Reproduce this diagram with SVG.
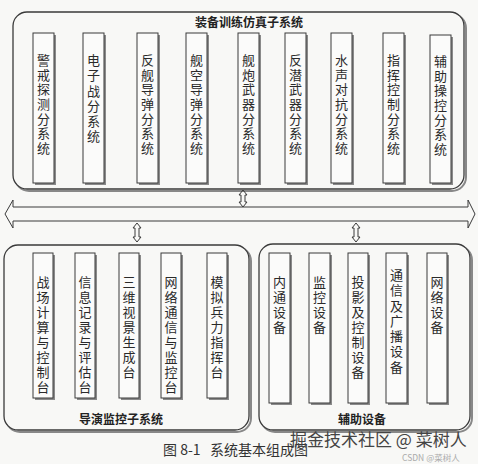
<svg xmlns="http://www.w3.org/2000/svg" width="478" height="464" viewBox="0 0 478 464">
<defs>
<style>
.bg{fill:#f8f8f6}
.cont{fill:#f8f8f6;stroke:#3a3a3a;stroke-width:1.3}
.cshadow{fill:none;stroke:#888;stroke-width:2}
.box{fill:#fbfbfa;stroke:#3a3a3a;stroke-width:1}
.bshadow{fill:#8a8a8a}
.t{font-family:"Noto Sans CJK SC","Noto Sans",sans-serif;font-size:13px;fill:#2a2a2a;writing-mode:vertical-rl;letter-spacing:1.7px}
.t2{letter-spacing:2px}
.t3{letter-spacing:2.3px}
.title{font-family:"Noto Sans CJK SC","Noto Sans",sans-serif;font-size:12px;font-weight:bold;fill:#222;text-anchor:middle}
.arrow{fill:none;stroke:#3a3a3a;stroke-width:1}
.cap{font-family:"Noto Sans CJK SC","Noto Sans",sans-serif;font-size:14px;fill:#333}
.wm{font-family:"Noto Sans CJK SC","Noto Sans",sans-serif;font-size:17px;fill:#444}
.wm2{font-family:"Noto Sans CJK SC","Noto Sans",sans-serif;font-size:8.5px;fill:#aaa}
</style>
</defs>
<rect class="bg" x="0" y="0" width="478" height="464"/>

<g id="equip-training-subsystem">
<rect class="cshadow" x="15" y="14" width="451" height="177" rx="14"/>
<rect class="cont" x="13" y="12" width="451" height="177" rx="14"/>
<text class="title" x="249" y="26.5">装备训练仿真子系统</text>
</g>

<g id="n1"><rect class="bshadow" x="35" y="35" width="21" height="150"/><rect class="box" x="33" y="33" width="21" height="150"/>
<text class="t" x="43.5" y="53.5">警戒探测分系统</text></g>
<g id="n2"><rect class="bshadow" x="85" y="35" width="21" height="150"/><rect class="box" x="83" y="33" width="21" height="150"/>
<text class="t t3" x="93.5" y="53.5">电子战分系统</text></g>
<g id="n3"><rect class="bshadow" x="139" y="35" width="21" height="150"/><rect class="box" x="137" y="33" width="21" height="150"/>
<text class="t" x="147.5" y="53.5">反舰导弹分系统</text></g>
<g id="n4"><rect class="bshadow" x="188" y="35" width="21" height="150"/><rect class="box" x="186" y="33" width="21" height="150"/>
<text class="t" x="196.5" y="53.5">舰空导弹分系统</text></g>
<g id="n5"><rect class="bshadow" x="240" y="35" width="21" height="150"/><rect class="box" x="238" y="33" width="21" height="150"/>
<text class="t" x="248.5" y="53.5">舰炮武器分系统</text></g>
<g id="n6"><rect class="bshadow" x="287" y="35" width="21" height="150"/><rect class="box" x="285" y="33" width="21" height="150"/>
<text class="t" x="295.5" y="53.5">反潜武器分系统</text></g>
<g id="n7"><rect class="bshadow" x="333" y="35" width="21" height="150"/><rect class="box" x="331" y="33" width="21" height="150"/>
<text class="t" x="341.5" y="53.5">水声对抗分系统</text></g>
<g id="n8"><rect class="bshadow" x="385" y="35" width="21" height="150"/><rect class="box" x="383" y="33" width="21" height="150"/>
<text class="t" x="393.5" y="53.5">指挥控制分系统</text></g>
<g id="n9"><rect class="bshadow" x="432" y="37" width="21" height="148"/><rect class="box" x="430" y="35" width="21" height="148"/>
<text class="t" x="440.5" y="54.5">辅助操控分系统</text></g>

<g id="director-subsystem">
<rect class="cshadow" x="6" y="247" width="245" height="185" rx="14"/>
<rect class="cont" x="4" y="245" width="245" height="185" rx="14"/>
<text class="title" x="121" y="424">导演监控子系统</text>
</g>
<g id="d1"><rect class="bshadow" x="35" y="255" width="20" height="145"/><rect class="box" x="33" y="253" width="20" height="145"/>
<text class="t t2" x="43" y="275.5">战场计算与控制台</text></g>
<g id="d2"><rect class="bshadow" x="77" y="255" width="20" height="145"/><rect class="box" x="75" y="253" width="20" height="145"/>
<text class="t t2" x="85" y="275.5">信息记录与评估台</text></g>
<g id="d3"><rect class="bshadow" x="121" y="255" width="20" height="145"/><rect class="box" x="119" y="253" width="20" height="145"/>
<text class="t t2" x="129" y="275.5">三维视景生成台</text></g>
<g id="d4"><rect class="bshadow" x="163" y="255" width="20" height="145"/><rect class="box" x="161" y="253" width="20" height="145"/>
<text class="t t2" x="171" y="275.5">网络通信与监控台</text></g>
<g id="d5"><rect class="bshadow" x="209" y="255" width="20" height="145"/><rect class="box" x="207" y="253" width="20" height="145"/>
<text class="t t2" x="217" y="275.5">模拟兵力指挥台</text></g>

<g id="aux-equipment">
<rect class="cshadow" x="261" y="246" width="211" height="186" rx="14"/>
<rect class="cont" x="259" y="244" width="211" height="186" rx="14"/>
<text class="title" x="362" y="424">辅助设备</text>
</g>
<g id="a1"><rect class="bshadow" x="271" y="255" width="21" height="150"/><rect class="box" x="269" y="253" width="21" height="150"/>
<text class="t t2" x="279.5" y="275.5">内通设备</text></g>
<g id="a2"><rect class="bshadow" x="311" y="255" width="21" height="150"/><rect class="box" x="309" y="253" width="21" height="150"/>
<text class="t t2" x="319.5" y="275.5">监控设备</text></g>
<g id="a3"><rect class="bshadow" x="350" y="255" width="20" height="150"/><rect class="box" x="348" y="253" width="20" height="150"/>
<text class="t t2" x="358" y="275.5">投影及控制设备</text></g>
<g id="a4"><rect class="bshadow" x="388" y="255" width="21" height="150"/><rect class="box" x="386" y="253" width="21" height="150"/>
<text class="t t3" x="396.5" y="268.5">通信及广播设备</text></g>
<g id="a5"><rect class="bshadow" x="429" y="255" width="20" height="150"/><rect class="box" x="427" y="253" width="20" height="150"/>
<text class="t t2" x="437" y="275.5">网络设备</text></g>

<g id="connectors">
<path class="arrow" d="M13,207 L468,207 L468,200 L475,214 L468,228 L468,221 L13,221 L13,228 L5,214 L13,200 Z" fill="#f8f8f6"/>
<path class="arrow" d="M241,195 L241,202 L239,202 L243,207 L247,202 L245,202 L245,195 L247,195 L243,190 L239,195 Z"/>
<path class="arrow" d="M135,228 L135,237 L133,237 L137,242 L141,237 L139,237 L139,228 L141,228 L137,223 L133,228 Z"/>
<path class="arrow" d="M354,228 L354,237 L352,237 L356,242 L360,237 L358,237 L358,228 L360,228 L356,223 L352,228 Z"/>
</g>

<text class="cap" x="163" y="455" xml:space="preserve">图 8-1   系统基本组成图</text>
<text class="wm" x="290" y="446">掘金技术社区 @ 菜树人</text>
<text class="wm2" x="402" y="460.5">CSDN @菜树人</text>
</svg>
